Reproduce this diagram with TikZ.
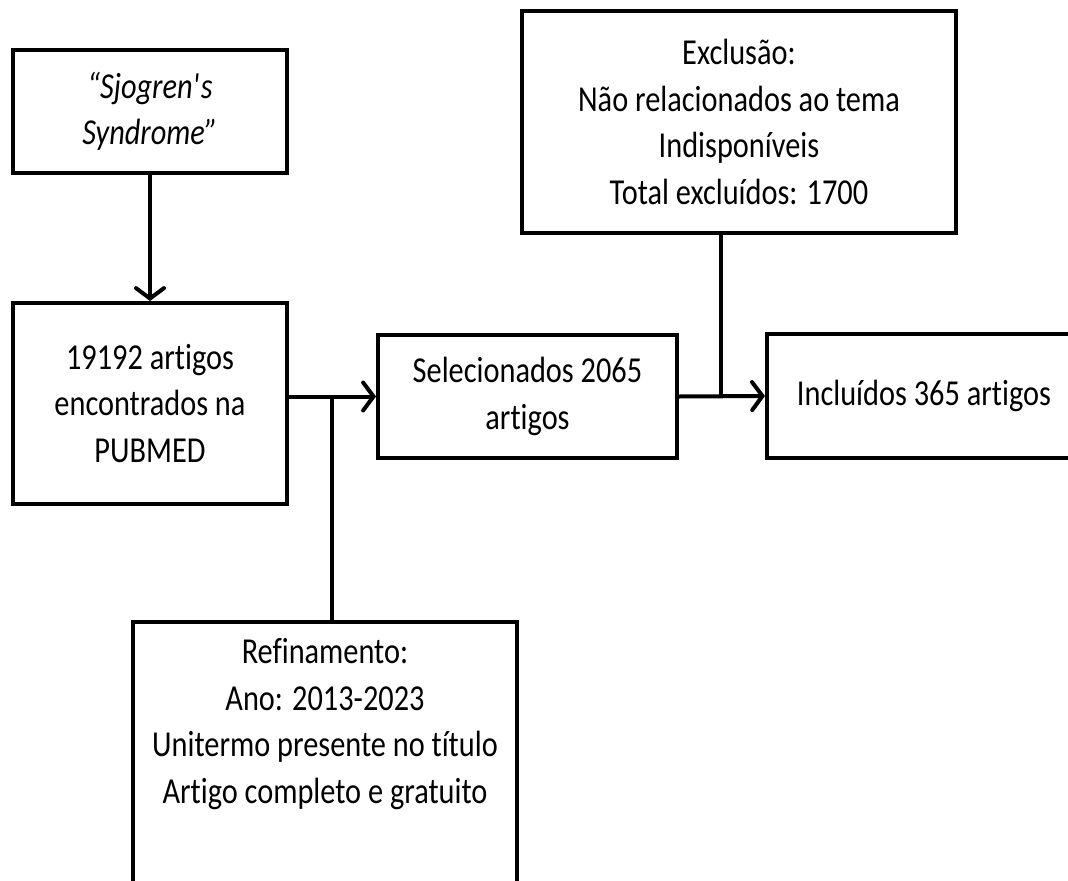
\documentclass[tikz,border=0pt]{standalone}
\usepackage{fontspec}
\setmainfont{Carlito}[FakeStretch=0.83, Ligatures=NoCommon]
\usetikzlibrary{arrows.meta}

\begin{document}
\begin{tikzpicture}[
    box/.style={rectangle, draw=black, line width=0.1cm, align=center,
        inner sep=0pt, font=\fontsize{26}{33}\selectfont},
    flow/.style={line width=0.1cm, -{Straight Barb[length=2.6mm, width=7mm, line cap=round]}},
    link/.style={line width=0.1cm}
  ]
  \clip (0,0) rectangle (26.7,-22.025);

  % Search term and results
  \node[box, minimum width=6.85cm, minimum height=3.075cm] (term) at (3.75,-2.7875)
      {\itshape “Sjogren\textquotesingle s\\\itshape Syndrome”};
  \node[box, minimum width=6.85cm, minimum height=5.025cm] (found) at (3.75,-10.0875)
      {19192 artigos\\encontrados na\\PUBMED};
  \draw[flow] (term.south) -- (found.north);

  % Selection
  \node[box, minimum width=7.475cm, minimum height=3.075cm] (selected) at (13.1875,-9.9125)
      {Selecionados 2065\\artigos};
  \node[box, minimum width=7.85cm, minimum height=3.1cm] (included) at (23.1,-9.9)
      {Incluídos 365 artigos};

  % Refinement and exclusion
  \node[box, minimum width=9.6cm, anchor=north, inner ysep=0.42cm] (refine) at (8.125,-15.5)
      {Refinamento:\\Ano: 2013-2023\\Unitermo presente no título\\Artigo completo e gratuito\\[4cm]\mbox{}};
  \node[box, minimum width=10.85cm, minimum height=5.55cm] (exclude) at (18.475,-3.05)
      {Exclusão:\\Não relacionados ao tema\\Indisponíveis\\Total excluídos: 1700};

  \coordinate (jleft) at (8.3,-9.9125);
  \coordinate (jright) at (18.025,-9.9);

  \draw[flow] (found.east |- selected.west) -- (selected.west);
  \draw[link] (refine.north -| jleft) -- (jleft);
  \draw[flow] (selected.east) -- (included.west);
  \draw[link] (exclude.south -| jright) -- (jright);
\end{tikzpicture}
\end{document}
